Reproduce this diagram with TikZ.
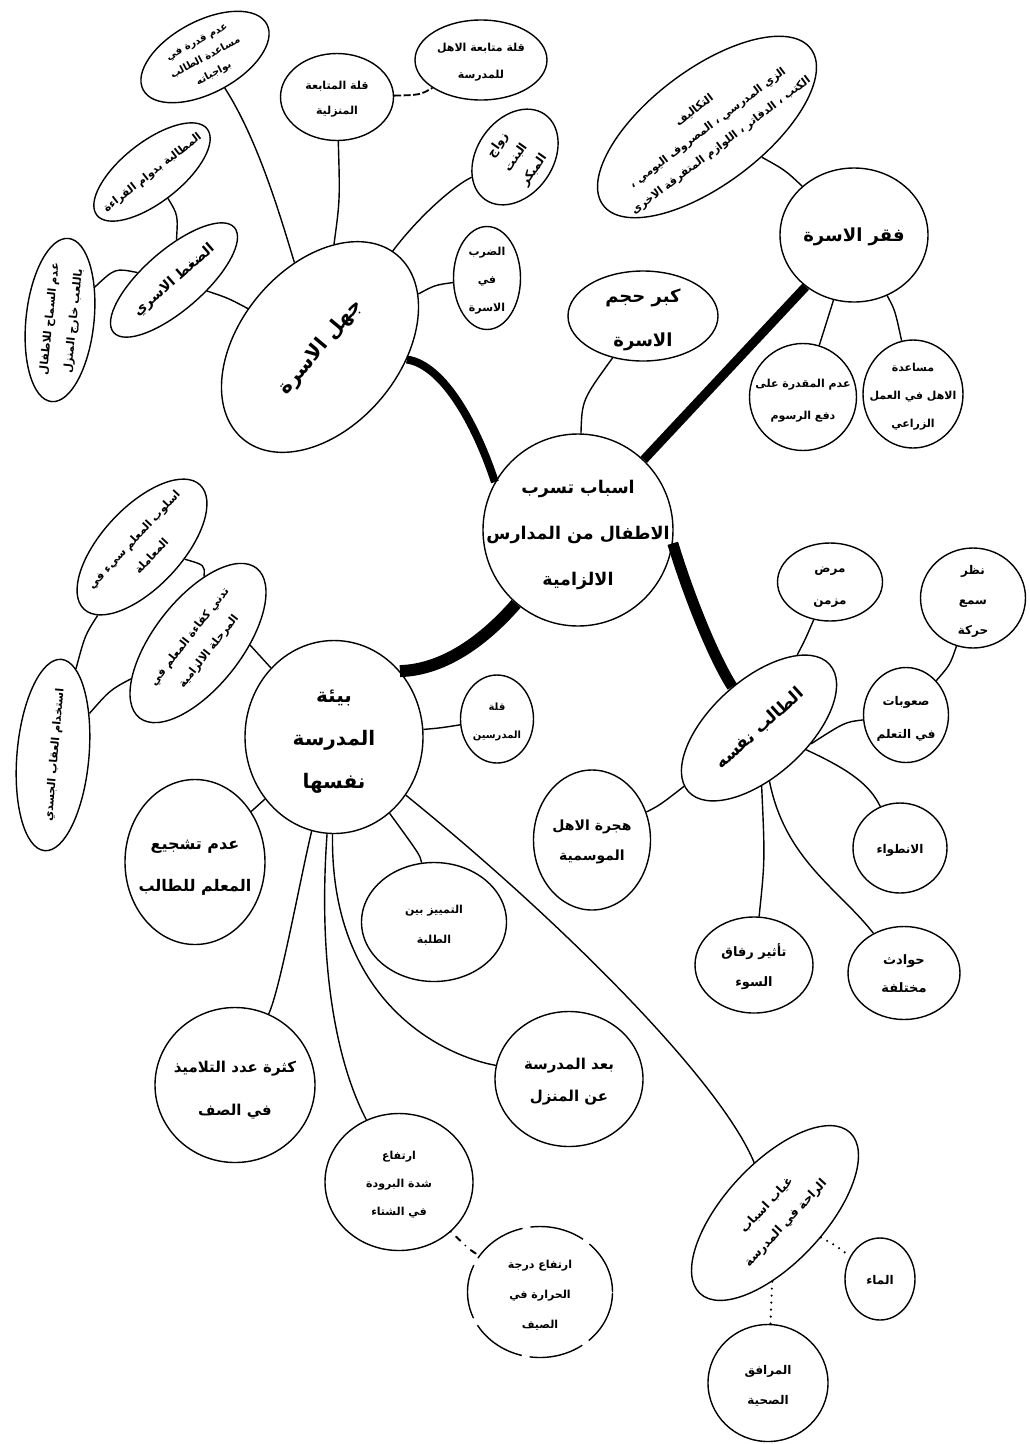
\documentclass[tikz,border=0pt]{standalone}
\usepackage{fontspec}
\newfontfamily\arabicfont[Script=Arabic]{DejaVu Sans}
\TeXXeTstate=1
\usetikzlibrary{shapes.geometric}
% one right-to-left line, and a zero-size block of lines
\newcommand{\rl}[1]{\beginR #1\endR}
\newcommand{\btxt}[1]{\makebox[0pt]{\raisebox{-.25em}[0pt][0pt]{\begin{tabular}{@{}c@{}}#1\end{tabular}}}}
\tikzset{
  bubble/.style={draw,ellipse,line width=1.4pt,inner sep=0pt,fill=white},
  sz/.style 2 args={minimum width=#1pt,minimum height=#2pt},
  fs/.style 2 args={font=\fontsize{#1}{#2}\arabicfont\bfseries},
  trunk/.style={line width=#1pt},
  twig/.style={line width=1.4pt},
  dashlink/.style={line width=1.8pt,dash pattern=on 7pt off 2.5pt},
  dotlink/.style={line width=2.4pt,line cap=round,dash pattern=on 0pt off 7pt},
  dotdash/.style={line width=2pt,line cap=round,dash pattern=on 0pt off 7pt on 6pt off 7pt},
  brokenrim/.style={dash pattern=on 55pt off 8pt},
}
\begin{document}
\begin{tikzpicture}[x=1pt,y=-1pt]
  \useasboundingbox (0,0) rectangle (1029,1444);

  % hub and the four main causes
  \node[bubble,sz={190}{192},fs={17.5}{46}] (main) at (578,530)
    {\btxt{\rl{اسباب تسرب}\\\rl{الاطفال من المدارس}\\\rl{الالزامية}}};
  \node[bubble,sz={240}{160},rotate=50,fs={20}{30}] (jahl) at (320,347) {\btxt{\rl{جهل الاسرة}}};
  \node[bubble,sz={148}{134},fs={18}{30}] (faqr) at (854,235) {\btxt{\rl{فقر الاسرة}}};
  \node[bubble,sz={178}{193},fs={20}{43}] (bia) at (334,737)
    {\btxt{\rl{بيئة}\\\rl{المدرسة}\\\rl{نفسها}}};
  \node[bubble,sz={190}{96},rotate=42,fs={17}{30}] (talib) at (759,728) {\btxt{\rl{الطالب نفسه}}};
  \node[bubble,sz={150}{90},fs={18}{44}] (kibar) at (643,316) {\btxt{\rl{كبر حجم}\\\rl{الاسرة}}};

  % family ignorance
  \node[bubble,sz={140}{72},rotate=28,fs={10}{18}] (qudra) at (205,57)
    {\btxt{\rl{عدم قدرة في}\\\rl{مساعدة الطالب}\\\rl{بواجباته}}};
  \node[bubble,sz={140}{60},rotate=38,fs={11}{20}] (mutalaba) at (152,172) {\btxt{\rl{المطالبة بدوام القراءة}}};
  \node[bubble,sz={160}{60},rotate=41,fs={14}{20}] (daght) at (174,280) {\btxt{\rl{الضغط الاسري}}};
  \node[bubble,sz={164}{68},rotate=84,fs={11}{24}] (samah) at (60,320)
    {\btxt{\rl{عدم السماح للاطفال}\\\rl{باللعب خارج المنزل}}};
  \node[bubble,sz={113}{87},fs={11}{25}] (mutabaa) at (337,97) {\btxt{\rl{قلة المتابعة}\\\rl{المنزلية}}};
  \node[bubble,sz={132}{80},fs={11}{27}] (ahl) at (481,60) {\btxt{\rl{قلة متابعة الاهل}\\\rl{للمدرسة}}};
  \node[bubble,sz={104}{76},rotate=55,fs={12}{22}] (zawaj) at (515,157)
    {\btxt{\rl{زواج}\\\rl{البنت}\\\rl{المبكر}}};
  \node[bubble,sz={67}{103},fs={11}{28}] (darb) at (487,278) {\btxt{\rl{الضرب}\\\rl{في}\\\rl{الاسرة}}};

  % poverty
  \node[bubble,sz={260}{115},rotate=37,fs={11}{22}] (takalif) at (707,127)
    {\btxt{\rl{التكاليف}\\\rl{الزي المدرسي ، المصروف اليومي ،}\\\rl{الكتب ، الدفاتر ، اللوازم المتفرقة الاخرى}}};
  \node[bubble,sz={107}{107},fs={11}{32}] (adam) at (803,397) {\btxt{\rl{عدم المقدرة على}\\\rl{دفع الرسوم}}};
  \node[bubble,sz={100}{108},fs={11}{28}] (musaada) at (913,394)
    {\btxt{\rl{مساعدة}\\\rl{الاهل في العمل}\\\rl{الزراعي}}};

  % the pupil
  \node[bubble,sz={105}{78},fs={12}{32}] (marad) at (830,582) {\btxt{\rl{مرض}\\\rl{مزمن}}};
  \node[bubble,sz={105}{100},fs={12}{30}] (nazar) at (973,598) {\btxt{\rl{نظر}\\\rl{سمع}\\\rl{حركة}}};
  \node[bubble,sz={85}{95},fs={12}{33}] (suubat) at (906,715) {\btxt{\rl{صعوبات}\\\rl{في التعلم}}};
  \node[bubble,sz={94}{90},fs={12}{28}] (intiwa) at (900,848) {\btxt{\rl{الانطواء}}};
  \node[bubble,sz={112}{93},fs={13}{28}] (hawadith) at (904,973) {\btxt{\rl{حوادث}\\\rl{مختلفة}}};
  \node[bubble,sz={118}{96},fs={13}{30}] (tathir) at (754,965) {\btxt{\rl{تأثير رفاق}\\\rl{السوء}}};
  \node[bubble,sz={117}{140},fs={14}{30}] (hijra) at (592,840) {\btxt{\rl{هجرة الاهل}\\\rl{الموسمية}}};

  % the school itself
  \node[bubble,sz={170}{80},rotate=47,fs={11}{24}] (uslub) at (142,547)
    {\btxt{\rl{اسلوب المعلم سيء في}\\\rl{المعاملة}}};
  \node[bubble,sz={190}{88},rotate=52,fs={11}{24}] (tadanni) at (198,643)
    {\btxt{\rl{تدني كفاءة المعلم في}\\\rl{المرحلة الالزامية}}};
  \node[bubble,sz={192}{72},rotate=85,fs={11}{24}] (iqab) at (53,755) {\btxt{\rl{استخدام العقاب الجسدي}}};
  \node[bubble,sz={140}{165},fs={16}{42}] (tashjii) at (195,862) {\btxt{\rl{عدم تشجيع}\\\rl{المعلم للطالب}}};
  \node[bubble,sz={73}{88},fs={10}{28}] (qillat) at (497,719) {\btxt{\rl{قلة}\\\rl{المدرسين}}};
  \node[bubble,sz={145}{119},fs={11}{30}] (tamyiz) at (434,922) {\btxt{\rl{التمييز بين}\\\rl{الطلبة}}};
  \node[bubble,sz={160}{155},fs={15}{43}] (kathra) at (235,1085) {\btxt{\rl{كثرة عدد التلاميذ}\\\rl{في الصف}}};
  \node[bubble,sz={148}{135},fs={15}{32}] (bud) at (569,1079) {\btxt{\rl{بعد المدرسة}\\\rl{عن المنزل}}};
  \node[bubble,sz={148}{137},fs={11}{28}] (bard) at (399,1182)
    {\btxt{\rl{ارتفاع}\\\rl{شدة البرودة}\\\rl{في الشتاء}}};
  \node[bubble,brokenrim,sz={145}{131},fs={11}{30}] (harara) at (540,1292)
    {\btxt{\rl{ارتفاع درجة}\\\rl{الحرارة في}\\\rl{الصيف}}};
  \node[bubble,sz={220}{100},rotate=47,fs={12}{26}] (ghiyab) at (775,1213)
    {\btxt{\rl{غياب اسباب}\\\rl{الراحة في المدرسة}}};
  \node[bubble,sz={70}{82},fs={12}{28}] (maa) at (880,1279) {\btxt{\rl{الماء}}};
  \node[bubble,sz={120}{117},fs={12}{30}] (marafiq) at (768,1383) {\btxt{\rl{المرافق}\\\rl{الصحية}}};

  % thick branches
  \draw[trunk=8] (jahl) .. controls (445,365) and (478,430) .. (main.150);
  \draw[trunk=9] (faqr) -- (main);
  \draw[trunk=11] (main.-8) .. controls (690,600) and (715,660) .. (talib);
  \draw[trunk=12] (main.230) .. controls (480,645) and (440,670) .. (bia.45);
  \draw[twig] (main) .. controls (582,400) .. (kibar);

  % family ignorance links
  \draw[twig] (jahl) .. controls (228,298) .. (daght);
  \draw[twig] (daght) .. controls (115,268) .. (samah);
  \draw[twig] (daght) .. controls (178,215) .. (mutalaba);
  \draw[twig] (jahl) .. controls (280,215) and (258,140) .. (qudra);
  \draw[twig] (jahl) .. controls (340,200) .. (mutabaa);
  \draw[dashlink] (mutabaa) .. controls (420,95) .. (ahl);
  \draw[twig] (jahl) .. controls (420,215) and (455,185) .. (zawaj);
  \draw[twig] (jahl) .. controls (435,285) .. (darb);

  % poverty links
  \draw[twig] (faqr) .. controls (785,170) .. (takalif);
  \draw[twig] (faqr) -- (adam);
  \draw[twig] (faqr) .. controls (895,310) .. (musaada);

  % pupil links
  \draw[twig] (talib) .. controls (805,640) .. (marad);
  \draw[twig] (talib.-59) .. controls (845,722) .. (suubat);
  \draw[twig] (suubat) .. controls (950,665) .. (nazar);
  \draw[twig] (talib) .. controls (850,770) and (870,785) .. (intiwa);
  \draw[twig] (talib) .. controls (785,860) and (840,890) .. (hawadith);
  \draw[twig] (talib) .. controls (765,860) .. (tathir);
  \draw[twig] (talib) .. controls (660,805) .. (hijra);

  % school links
  \draw[twig] (bia) .. controls (250,645) .. (tadanni);
  \draw[twig] (tadanni) .. controls (205,565) .. (uslub);
  \draw[twig] (uslub) .. controls (85,635) .. (iqab);
  \draw[twig] (tadanni) .. controls (110,690) .. (iqab);
  \draw[twig] (bia) -- (tashjii);
  \draw[twig] (bia) .. controls (440,728) .. (qillat);
  \draw[twig] (bia) .. controls (420,855) .. (tamyiz);
  \draw[twig] (bia) .. controls (560,920) and (720,1080) .. (ghiyab);
  \draw[twig] (bia) .. controls (330,1000) and (440,1055) .. (bud);
  \draw[twig] (bia) .. controls (318,960) and (335,1060) .. (bard);
  \draw[twig] (bia) .. controls (300,880) and (280,990) .. (kathra);
  \draw[dotdash] (bard) .. controls (470,1250) .. (harara);
  \draw[dotlink] (ghiyab) .. controls (835,1245) .. (maa);
  \draw[dotlink] (ghiyab) -- (marafiq);
\end{tikzpicture}
\end{document}
